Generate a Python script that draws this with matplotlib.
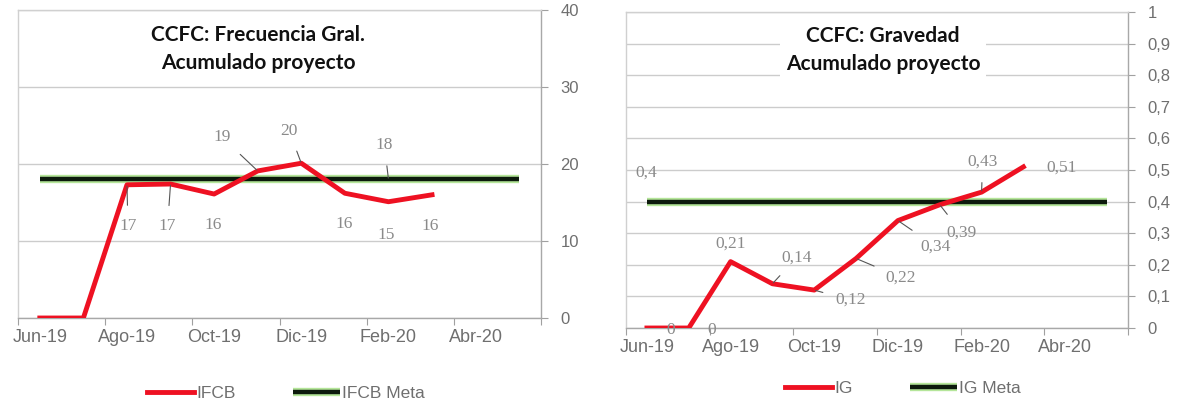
import matplotlib
matplotlib.use("Agg")
import matplotlib.pyplot as plt
import matplotlib.patheffects as pe

# categories (Jun-19 .. May-20)
months = ["Jun-19", "Jul-19", "Ago-19", "Sep-19", "Oct-19", "Nov-19",
          "Dic-19", "Ene-20", "Feb-20", "Mar-20", "Abr-20", "May-20"]

# left chart: frecuencia
ifcb = [0, 0, 17.3, 17.4, 16.1, 19.1, 20.1, 16.2, 15.1, 16.0]
ifcb_meta = [18] * 12
ifcb_lbl = ["", "", "17", "17", "16", "19", "20", "16", "15", "16"]

# right chart: gravedad
ig = [0, 0, 0.21, 0.14, 0.12, 0.22, 0.34, 0.39, 0.43, 0.51]
ig_meta = [0.4] * 12
ig_lbl = ["0", "0", "0,21", "0,14", "0,12", "0,22", "0,34", "0,39", "0,43", "0,51"]

# label offsets in pixels (dx, dy, leader line?)
ifcb_off = [None, None, (1, -41, True), (-3, -42, True), (-1, -31, False),
            (-36, 34, True), (-12, 32, True), (-1, -31, False), (-2, -33, False), (-2, -31, False)]
ig_off = [(24, -2, False), (23, -2, False), (0, 18, False), (24, 26, True), (36, -10, True),
          (45, -19, True), (38, -26, True), (22, -28, True), (1, 30, True), (38, -1, False)]

RED = "#ee1122"
DARK = "#0c1a0c"
GREY_TXT = "#6f6f6f"
LBL_TXT = "#8a8a8a"

W, H = 1178, 407
fig = plt.figure(figsize=(W / 100, H / 100), dpi=100)


def setup_axis(ax, ymax, ystep, ylabels):
    ax.set_xlim(-0.5, len(months) - 0.5)
    ax.set_ylim(0, ymax)
    ax.yaxis.tick_right()
    yt = [i * ystep for i in range(len(ylabels))]
    ax.set_yticks(yt)
    ax.set_yticklabels(ylabels)
    ax.grid(axis="y", color="#cccccc", linewidth=1)
    ax.set_axisbelow(True)
    # tick marks between category pairs, labels on every second month
    ax.set_xticks([i - 0.5 for i in range(0, len(months) + 1, 2)])
    ax.set_xticklabels([])
    ax.set_xticks(list(range(0, len(months), 2)), minor=True)
    ax.set_xticklabels(months[::2], minor=True)
    ax.tick_params(axis="x", which="major", length=5, color="#a0a0a0", direction="out")
    ax.tick_params(axis="x", which="minor", length=0, pad=8, labelsize=13, labelcolor=GREY_TXT)
    ax.tick_params(axis="y", length=5, color="#a0a0a0", pad=9, labelsize=12, labelcolor=GREY_TXT)
    for name in ["left", "top"]:
        ax.spines[name].set_color("#d0d0d0")
    for name in ["right", "bottom"]:
        ax.spines[name].set_color("#a8a8a8")
    for sp in ax.spines.values():
        sp.set_linewidth(1)
    for lab in ax.get_xticklabels(minor=True) + ax.get_yticklabels():
        lab.set_family("Liberation Sans")


def draw(ax, vals, meta, labels, offs, meta_idx, meta_txt, meta_off, title, leg_names, leg_xy, colsp):
    x = list(range(len(vals)))
    xm = list(range(len(meta)))
    glow = [pe.Stroke(linewidth=6, foreground="#b5e69a"), pe.Normal()]
    lm, = ax.plot(xm, meta, color=DARK, linewidth=3.2, solid_capstyle="butt",
                  path_effects=glow, zorder=3)
    lv, = ax.plot(x, vals, color=RED, linewidth=3.5, solid_joinstyle="round", zorder=4)
    for i, (v, t) in enumerate(zip(vals, labels)):
        if not t or offs[i] is None:
            continue
        dx, dy, leader = offs[i]
        ax.annotate(t, (i, v), xytext=(dx, dy), textcoords="offset pixels",
                    ha="center", va="center", fontsize=12.5, color=LBL_TXT,
                    family="Liberation Serif", zorder=5,
                    arrowprops=dict(arrowstyle="-", color="#555555", lw=0.8,
                                    shrinkA=7, shrinkB=1) if leader else None)
    dx, dy = meta_off
    ax.annotate(meta_txt, (meta_idx, meta[meta_idx]), xytext=(dx, dy), textcoords="offset pixels",
                ha="center", va="center", fontsize=12.5, color=LBL_TXT, family="Liberation Serif",
                zorder=5, arrowprops=dict(arrowstyle="-", color="#555555", lw=0.8, shrinkA=7, shrinkB=1)
                if meta_idx != 0 else None)
    ax.text(title[0], title[1], title[2], transform=fig.transFigure, ha="center", va="center",
            fontsize=15, fontweight="bold", family="Lato", linespacing=1.55, color="#111111",
            bbox=dict(facecolor="white", edgecolor="none", pad=4), zorder=6)
    fig.legend([lv, lm], leg_names, loc="center", bbox_to_anchor=leg_xy, ncol=2, frameon=False,
               handlelength=2.7, handletextpad=0.15, columnspacing=colsp,
               prop={"family": "Liberation Sans", "size": 12.5}, labelcolor=GREY_TXT)


# left chart
ax1 = fig.add_axes([18 / W, 1 - 318 / H, 523 / W, 308 / H])
setup_axis(ax1, 40, 10, ["0", "10", "20", "30", "40"])
draw(ax1, ifcb, ifcb_meta, ifcb_lbl, ifcb_off, 8, "18", (-4, 34),
     (258 / W, 1 - 49 / H, "CCFC: Frecuencia Gral.\nAcumulado proyecto"),
     ["IFCB", "IFCB Meta"], (286 / W, 1 - 393 / H), 3.3)

# right chart
ax2 = fig.add_axes([626 / W, 1 - 328 / H, 502 / W, 316 / H])
setup_axis(ax2, 1, 0.1, ["0", "0,1", "0,2", "0,3", "0,4", "0,5", "0,6", "0,7", "0,8", "0,9", "1"])
draw(ax2, ig, ig_meta, ig_lbl, ig_off, 0, "0,4", (-1, 29),
     (883 / W, 1 - 50 / H, "CCFC: Gravedad\nAcumulado proyecto"),
     ["IG", "IG Meta"], (903 / W, 1 - 388 / H), 3.3)

fig.savefig("out.png", dpi=100)
